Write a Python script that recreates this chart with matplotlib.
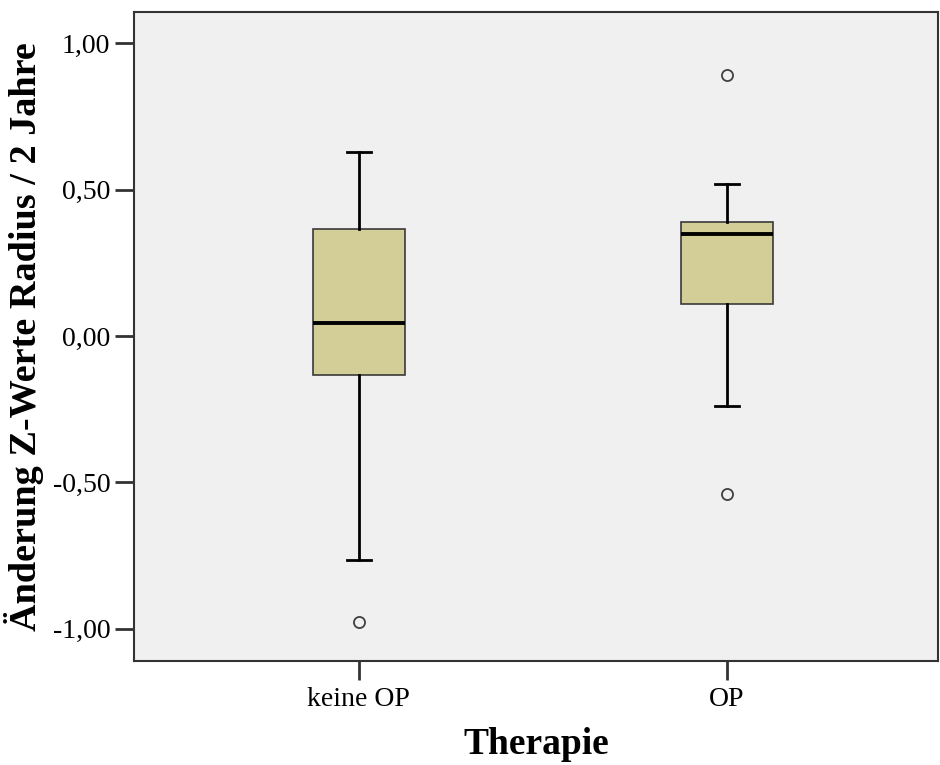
import matplotlib
matplotlib.use("Agg")
import matplotlib.pyplot as plt

categories = ["keine OP", "OP"]
q1 = [-0.133, 0.108]
median = [0.045, 0.348]
q3 = [0.366, 0.391]
whislo = [-0.766, -0.239]
whishi = [0.628, 0.518]
outliers = [[-0.979], [0.892, -0.540]]
yticks = [-1.0, -0.5, 0.0, 0.5, 1.0]
ytick_labels = ["-1,00", "-0,50", "0,00", "0,50", "1,00"]

plt.rcParams["font.family"] = ["Liberation Serif", "DejaVu Serif"]

fig = plt.figure(figsize=(9.4, 7.65), dpi=100)
ax = fig.add_axes([0.1426, 0.1363, 0.855, 0.848])
ax.set_facecolor("#F0F0F0")

stats = []
for i, c in enumerate(categories):
    stats.append(dict(label=c, q1=q1[i], med=median[i], q3=q3[i],
                      whislo=whislo[i], whishi=whishi[i], fliers=outliers[i]))

ax.bxp(stats, positions=[1, 2], widths=0.25, patch_artist=True, capwidths=0.065,
       boxprops=dict(facecolor="#D3CE97", edgecolor="#3a3a3a", linewidth=1.2),
       medianprops=dict(color="black", linewidth=2.8),
       whiskerprops=dict(color="black", linewidth=2.0),
       capprops=dict(color="black", linewidth=2.0),
       flierprops=dict(marker="o", markersize=8, markerfacecolor="none",
                       markeredgecolor="#404040", markeredgewidth=1.3))

ax.set_xlim(0.389, 2.573)
ax.set_ylim(-1.110, 1.107)
ax.set_yticks(yticks)
ax.set_yticklabels(ytick_labels)
ax.set_xticks([1, 2])
ax.set_xticklabels(categories)
ax.tick_params(axis="both", direction="out", length=14, width=2, color="#333333",
               labelsize=20, pad=3)
ax.tick_params(axis="x", pad=5)
for s in ax.spines.values():
    s.set_color("#333333")
    s.set_linewidth(1.5)

ax.set_xlabel("Therapie", fontsize=27, fontweight="bold", labelpad=11)
ax.set_ylabel("Änderung Z-Werte Radius / 2 Jahre", fontsize=27.5, fontweight="bold", labelpad=6)

fig.savefig("out.png", dpi=100)
